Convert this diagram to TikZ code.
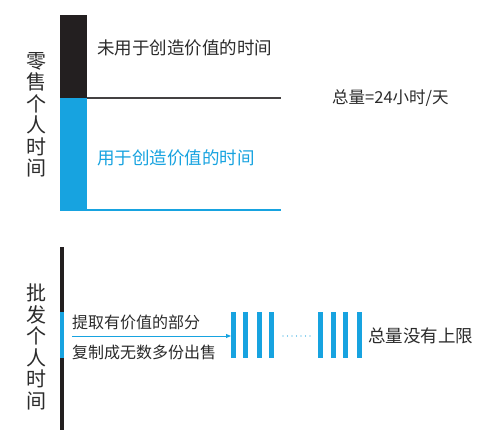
\documentclass[tikz,border=0pt]{standalone}
\usepackage{fontspec}
\setmainfont{Noto Sans CJK SC}
\usetikzlibrary{arrows.meta}
\definecolor{cblue}{HTML}{17A3E0}
\definecolor{cblack}{HTML}{231F20}
\definecolor{ctext}{HTML}{2B2B2B}
\begin{document}
\begin{tikzpicture}[x=1pt,y=-1pt,
  barbox/.style={rectangle, draw=none, inner sep=0pt, outer sep=0pt, anchor=north west},
  copybar/.style={rectangle, fill=cblue, draw=none, inner sep=0pt, outer sep=0pt, minimum width=5pt, minimum height=46pt},
  vlabel/.style={align=center, font=\fontsize{20}{21.5}\selectfont, text=ctext, inner sep=0pt},
  lbl/.style={anchor=west, inner sep=0pt, text=ctext}]
\useasboundingbox (0,0) rectangle (500,443);
\fill[white] (0,0) rectangle (500,443);

% ---- top: retail personal time
\node[barbox, fill=cblack, minimum width=27pt, minimum height=83pt] (blk) at (60,15) {};
\node[barbox, fill=cblue, minimum width=27pt, minimum height=113pt] (blu) at (60,98) {};
\coordinate (r1) at (281,98);
\coordinate (r2) at (281,210);
\coordinate (l2) at (60,210);
\draw[cblack!85, line width=1.2pt] (blk.south east) -- (r1);
\draw[cblue, line width=2pt] (l2) -- (r2);

\node[vlabel] (lab1) at (37,115) {零\\售\\个\\人\\时\\间};
\node[lbl, font=\fontsize{17.5}{17.5}\selectfont] (t1) at (97,48) {未用于创造价值的时间};
\node[lbl, font=\fontsize{17.5}{17.5}\selectfont, text=cblue] (t2) at (97,158) {用于创造价值的时间};
\node[lbl, font=\fontsize{16.5}{16.5}\selectfont] (t3) at (332,98) {总量=24小时/天};

% ---- bottom: wholesale personal time
\node[barbox, fill=cblack, minimum width=4pt, minimum height=183pt] (bl2) at (59.5,247) {};
\node[barbox, fill=cblue, minimum width=4pt, minimum height=46pt] (bu2) at (59.5,312) {};
\node[vlabel] (lab2) at (37,347) {批\\发\\个\\人\\时\\间};

\node[lbl, font=\fontsize{16}{16}\selectfont] (t4) at (72,322) {提取有价值的部分};
\node[lbl, font=\fontsize{16}{16}\selectfont] (t5) at (72,352) {复制成无数多份出售};

\node[copybar] (b1) at (233.5,335) {};
\node[copybar] (b2) at (245.5,335) {};
\node[copybar] (b3) at (259.5,335) {};
\node[copybar] (b4) at (271.5,335) {};
\node[copybar] (b5) at (320.5,335) {};
\node[copybar] (b6) at (333.5,335) {};
\node[copybar] (b7) at (345.5,335) {};
\node[copybar] (b8) at (359.5,335) {};

\coordinate (a0) at (72,336);
\draw[cblue, line width=1pt, -{Triangle[length=5pt,width=4pt]}] (a0) -- (b1.west |- a0);
\draw[cblue, line width=1.4pt, line cap=round, dash pattern=on 0pt off 4.5pt] ([xshift=9pt]b4.east |- a0) -- ([xshift=-7pt]b5.west |- a0);

\node[lbl, font=\fontsize{17.5}{17.5}\selectfont] (t6) at (368,336) {总量没有上限};
\end{tikzpicture}
\end{document}
